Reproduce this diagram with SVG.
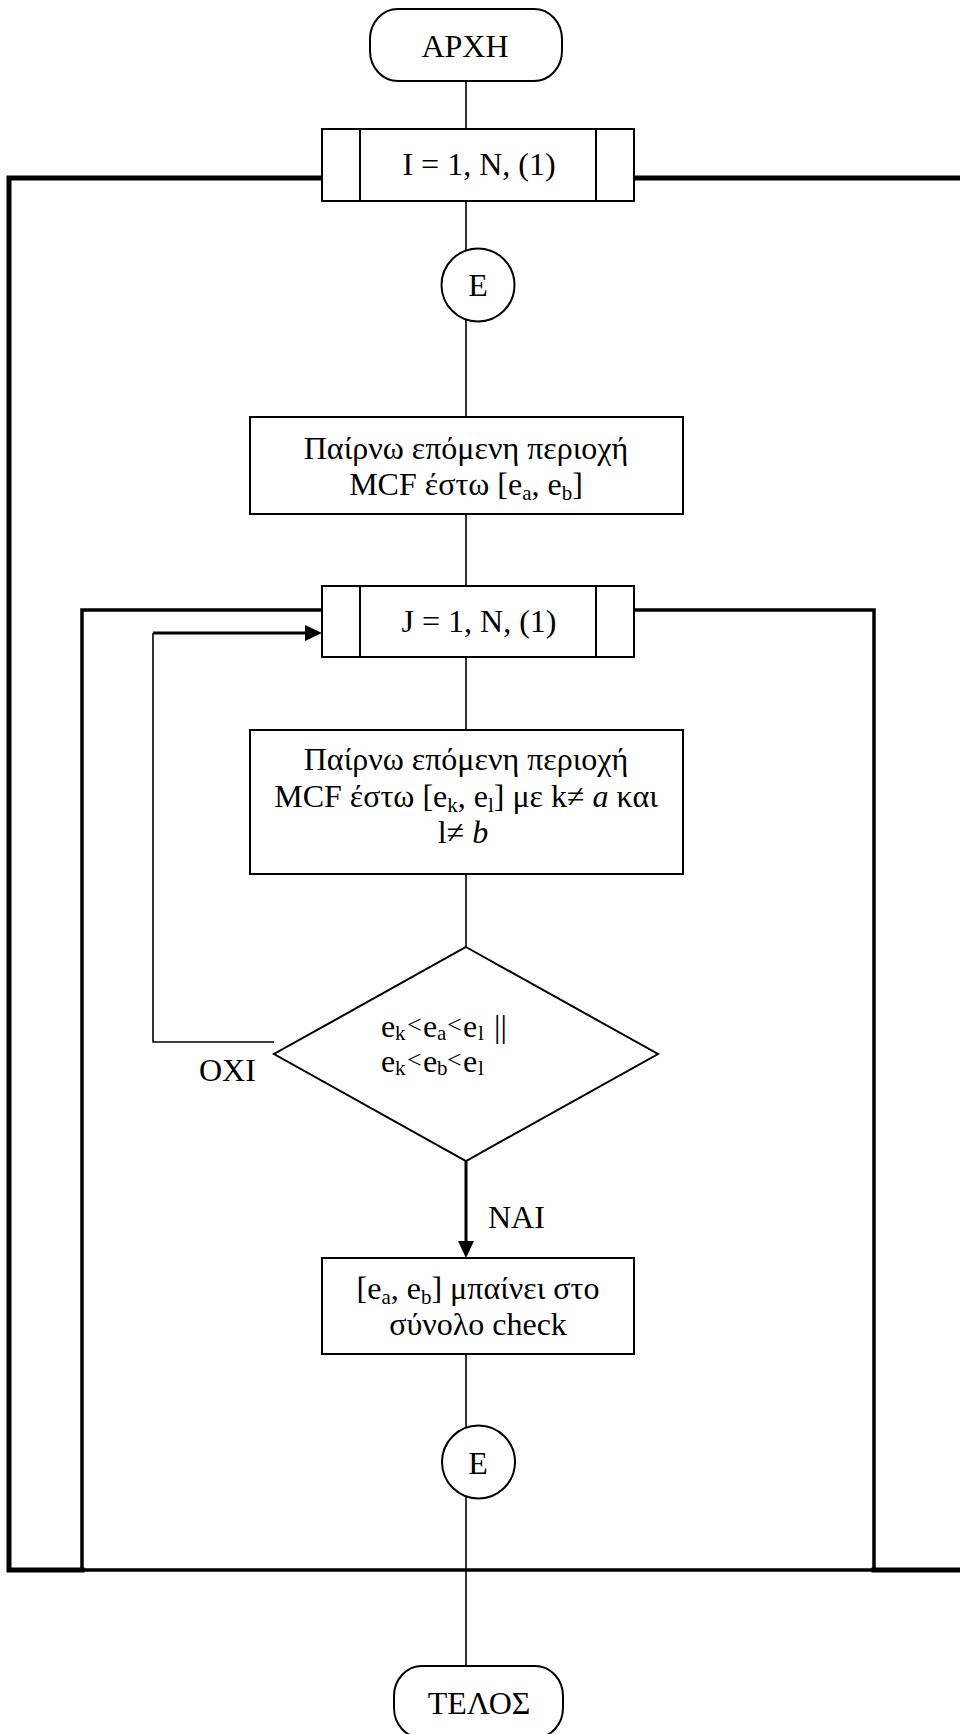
<svg xmlns="http://www.w3.org/2000/svg" width="960" height="1734" viewBox="0 0 960 1734">
<defs>
<style>
.t{font-family:'Liberation Serif','Times New Roman','DejaVu Serif',serif;font-size:32px;fill:#000}
.s{font-size:21px}
.lt{font-size:26px}
.shape{fill:#fff;stroke:#000;stroke-width:2}
.thin{fill:none;stroke:#000;stroke-width:1.6}
.mid{fill:none;stroke:#000;stroke-width:3}
.outer{fill:none;stroke:#000;stroke-width:5;stroke-linecap:square}
.inner{fill:none;stroke:#000;stroke-width:3.5;stroke-linecap:square}
</style>
</defs>
<rect width="960" height="1734" fill="#fff"/>
<g font-family="Liberation Serif, Times New Roman, DejaVu Serif, serif">
<g id="connectors">
<line class="thin" x1="466" y1="81" x2="466" y2="129"/>
<line class="thin" x1="466" y1="201" x2="466" y2="417"/>
<line class="thin" x1="466" y1="514" x2="466" y2="586"/>
<line class="thin" x1="466" y1="657" x2="466" y2="730"/>
<line class="thin" x1="466" y1="874" x2="466" y2="947"/>
<line class="thin" x1="466" y1="1354" x2="466" y2="1666"/>
<polyline class="outer" points="322,178 9,178 9,1570 82,1570"/>
<line class="outer" x1="634" y1="178" x2="965" y2="178"/>
<line class="outer" x1="874" y1="1570" x2="965" y2="1570"/>
<polyline class="inner" points="322,610 82,610 82,1570 874,1570 874,610 634,610"/>
<polyline class="thin" points="274,1042 153,1042 153,633"/>
<line class="mid" x1="153" y1="633" x2="308" y2="633"/>
<polygon points="322,633 305,625 305,641" fill="#000"/>
<line class="mid" x1="466" y1="1161" x2="466" y2="1244"/>
<polygon points="466,1258 458,1241 474,1241" fill="#000"/>
<text class="t" x="199" y="1081">ΟΧΙ</text>
<text class="t" x="488" y="1228">ΝΑΙ</text>
</g>
<g id="start">
<rect class="shape" x="370" y="9" width="192" height="72" rx="28" ry="30"/>
<text class="t" x="465" y="57" text-anchor="middle">ΑΡΧΗ</text>
</g>
<g id="loopI">
<rect class="shape" x="322" y="129" width="312" height="72"/>
<line class="thin" x1="360" y1="129" x2="360" y2="201" style="stroke-width:2"/>
<line class="thin" x1="596" y1="129" x2="596" y2="201" style="stroke-width:2"/>
<text class="t" x="479" y="175" text-anchor="middle">I = 1, N, (1)</text>
</g>
<g id="e1">
<circle class="shape" cx="478" cy="285" r="36.5"/>
<text class="t" x="478" y="296" text-anchor="middle">Ε</text>
</g>
<g id="box1">
<rect class="shape" x="250" y="417" width="433" height="97"/>
<text class="t" x="466" y="459" text-anchor="middle">Παίρνω επόμενη περιοχή</text>
<text class="t" x="466" y="495" text-anchor="middle">MCF έστω [e<tspan class="s" dy="5">a</tspan><tspan dy="-5">, e</tspan><tspan class="s" dy="5">b</tspan><tspan dy="-5">]</tspan></text>
</g>
<g id="loopJ">
<rect class="shape" x="322" y="586" width="312" height="71"/>
<line class="thin" x1="360" y1="586" x2="360" y2="657" style="stroke-width:2"/>
<line class="thin" x1="596" y1="586" x2="596" y2="657" style="stroke-width:2"/>
<text class="t" x="479" y="632" text-anchor="middle">J = 1, N, (1)</text>
</g>
<g id="box2">
<rect class="shape" x="250" y="730" width="433" height="144"/>
<text class="t" x="466" y="770" text-anchor="middle">Παίρνω επόμενη περιοχή</text>
<text class="t" x="466" y="807" text-anchor="middle">MCF έστω [e<tspan class="s" dy="5">k</tspan><tspan dy="-5">, e</tspan><tspan class="s" dy="5">l</tspan><tspan dy="-5">] με k≠ </tspan><tspan font-style="italic">a</tspan> και</text>
<text class="t" x="463" y="843" text-anchor="middle">l≠ <tspan font-style="italic">b</tspan></text>
</g>
<g id="decision">
<polygon class="shape" points="466,947 658,1054 466,1161 274,1054"/>
<text class="t"><tspan x="381" y="1037">e</tspan><tspan class="s" x="395" y="1040">k</tspan><tspan class="lt" x="407" y="1033">&lt;</tspan><tspan x="423" y="1037">e</tspan><tspan class="s" x="437" y="1040">a</tspan><tspan class="lt" x="447" y="1033">&lt;</tspan><tspan x="463" y="1037">e</tspan><tspan class="s" x="478" y="1040">l</tspan><tspan x="494" y="1037">||</tspan></text>
<text class="t"><tspan x="381" y="1072">e</tspan><tspan class="s" x="395" y="1075">k</tspan><tspan class="lt" x="407" y="1068">&lt;</tspan><tspan x="423" y="1072">e</tspan><tspan class="s" x="437" y="1075">b</tspan><tspan class="lt" x="447" y="1068">&lt;</tspan><tspan x="463" y="1072">e</tspan><tspan class="s" x="478" y="1075">l</tspan></text>
</g>
<g id="box3">
<rect class="shape" x="322" y="1258" width="312" height="96"/>
<text class="t" x="478" y="1299" text-anchor="middle">[e<tspan class="s" dy="5">a</tspan><tspan dy="-5">, e</tspan><tspan class="s" dy="5">b</tspan><tspan dy="-5">] μπαίνει στο</tspan></text>
<text class="t" x="478" y="1335" text-anchor="middle">σύνολο check</text>
</g>
<g id="e2">
<circle class="shape" cx="478.5" cy="1462" r="36.5"/>
<text class="t" x="478" y="1474" text-anchor="middle">Ε</text>
</g>
<g id="end">
<rect class="shape" x="394" y="1666" width="169" height="72" rx="28" ry="30"/>
<text class="t" x="479" y="1714" text-anchor="middle">ΤΕΛΟΣ</text>
</g>
</g>
</svg>
